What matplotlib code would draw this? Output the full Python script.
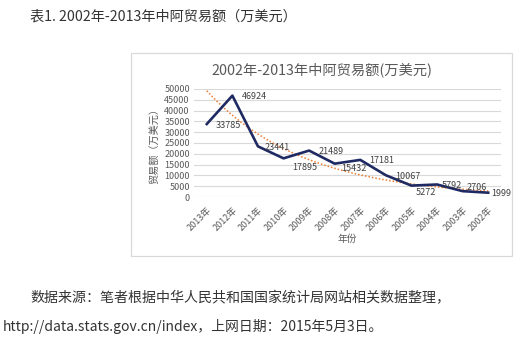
import numpy as np
import matplotlib
matplotlib.use("Agg")
import matplotlib.pyplot as plt
from matplotlib.patches import Rectangle

plt.rcParams['font.family'] = ['Noto Sans CJK SC', 'DejaVu Sans']

# Data
years = ["2013年", "2012年", "2011年", "2010年", "2009年", "2008年",
         "2007年", "2006年", "2005年", "2004年", "2003年", "2002年"]
trade = [33785, 46924, 23441, 17895, 21489, 15432,
         17181, 10067, 5272, 5792, 2706, 1999]
yticks = [0, 5000, 10000, 15000, 20000, 25000, 30000, 35000, 40000, 45000, 50000]

W, H = 519, 341
fig = plt.figure(figsize=(W / 100, H / 100), dpi=100)
fig.patch.set_facecolor('white')

def fx(px):
    return px / W

def fy(py):
    return 1 - py / H

# chart frame
fig.patches.append(Rectangle((fx(131), fy(256)), fx(512) - fx(131), fy(53) - fy(256),
                             transform=fig.transFigure, fill=False,
                             edgecolor='#D9D9D9', lw=0.9))

ax = fig.add_axes([fx(194), fy(197), fx(501) - fx(194), fy(89) - fy(197)])
x = np.arange(1, len(years) + 1)
ax.set_xlim(0.5, len(years) + 0.5)
ax.set_ylim(0, 50000)
ax.set_yticks(yticks)
ax.set_yticklabels([str(v) for v in yticks], fontsize=6.5, color='#595959')
ax.set_xticks(x)
ax.set_xticklabels(years, fontsize=6.5, color='#595959', rotation=45,
                   ha='right', rotation_mode='anchor')
ax.tick_params(axis='both', length=0, pad=3)
ax.tick_params(axis='x', pad=6)
for s in ax.spines.values():
    s.set_visible(False)
ax.grid(axis='y', color='#D9D9D9', lw=0.8)
ax.set_axisbelow(True)

# exponential trendline
coef = np.polyfit(x, np.log(trade), 1)
xt = np.linspace(1, len(years), 200)
ax.plot(xt, np.exp(np.polyval(coef, xt)), color='#ED7D31', lw=1.1,
        linestyle=(0, (1, 1.3)), zorder=2, clip_on=False)

ax.plot(x, trade, color='#1F2A63', lw=1.9, zorder=3, clip_on=False)

# value labels (pixel offsets from each point)
offs = [(9, -1), (9, -1), (7, -1), (9, -9), (9, -1), (7, -5),
        (9, -1), (9, -1), (4, -7), (5, -1), (4, 4), (3, -1)]
for xi, v, (dx, dy) in zip(x, trade, offs):
    ax.annotate(str(v), (xi, v), xytext=(dx, dy), textcoords='offset pixels',
                fontsize=6.5, color='#404040', ha='left', va='center', zorder=4)

ax.set_ylabel("贸易额（万美元）", fontsize=7.3, color='#595959', labelpad=3.5)
ax.set_xlabel("年份", fontsize=7, color='#595959', labelpad=1)

fig.text(fx(322), fy(70), "2002年-2013年中阿贸易额(万美元)", fontsize=10.3,
         color='#595959', ha='center', va='center')

fig.text(fx(30), fy(16), "表1. 2002年-2013年中阿贸易额（万美元）", fontsize=10.2,
         color='#333333', ha='left', va='center')
fig.text(fx(30), fy(298), "数据来源：笔者根据中华人民共和国国家统计局网站相关数据整理，",
         fontsize=10.1, color='#333333', ha='left', va='center')
fig.text(fx(3), fy(326), "http://data.stats.gov.cn/index，上网日期：2015年5月3日。",
         fontsize=10.0, color='#333333', ha='left', va='center')

fig.savefig("out.png", dpi=100)
